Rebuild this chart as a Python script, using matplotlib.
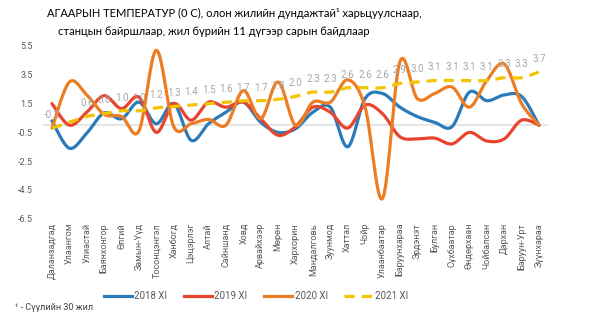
import numpy as np
import matplotlib
matplotlib.use('Agg')
import matplotlib.pyplot as plt
from matplotlib.lines import Line2D

plt.rcParams['font.family'] = ['Roboto', 'DejaVu Sans']

stations = ['Даланзадгад', 'Улаангом', 'Улиастай', 'Баянхонгор', 'Өлгий', 'Замын-Үүд',
            'Тосонцэнгэл', 'Ханбогд', 'Цэцэрлэг', 'Алтай', 'Сайншанд', 'Ховд', 'Арвайхээр',
            'Мөрөн', 'Хархорин', 'Мандалговь', 'Зуунмод', 'Хаттал', 'Чойр', 'Улаанбаатар',
            'Баруунхараа', 'Эрдэнэт', 'Булган', 'Сүхбаатар', 'Өндөрхаан', 'Чойбалсан',
            'Дархан', 'Баруун-Урт', 'Зүүнхараа']

t2018 = [0.3, -1.6, -0.55, 0.85, 0.45, 1.6, 0.1, 1.5, -1.05, 0.1, 0.9, 1.6, 0.2, -0.5,
         -0.25, 0.9, 1.25, -1.5, 1.85, 2.2, 1.25, 0.6, 0.2, -0.1, 2.3, 1.7, 2.1, 2.0, 0.0]
t2019 = [1.5, 0.0, 0.9, 2.05, 1.15, 1.95, -0.5, 1.5, 0.35, 1.6, 1.25, 1.6, 0.45, -0.7,
         -0.1, 1.25, 0.9, -0.2, 1.4, 0.8, -0.8, -0.95, -0.9, -1.3, -0.5, -1.1, -0.95, 0.35, 0.0]
t2020 = [-0.2, 3.0, 2.1, 0.75, 0.6, -0.4, 5.2, -0.1, 0.1, 0.4, 0.0, 2.4, 0.45, 3.0,
         0.0, 1.6, 1.6, 3.15, 1.25, -5.1, 4.4, 1.85, 2.2, 2.65, 1.25, 3.1, 4.25, 1.5, 0.0]
t2021 = [-0.2, 0.2, 0.6, 0.8, 1.0, 1.0, 1.2, 1.3, 1.4, 1.5, 1.6, 1.7, 1.7, 1.8,
         2.0, 2.3, 2.3, 2.6, 2.6, 2.6, 2.9, 3.0, 3.1, 3.1, 3.1, 3.1, 3.3, 3.3, 3.7]

series = [('2018 XI', t2018, '#2b7bba', '-'),
          ('2019 XI', t2019, '#e8452f', '-'),
          ('2020 XI', t2020, '#ec7d23', '-'),
          ('2021 XI', t2021, '#f5c400', '--')]


def smooth(y, n=20):
    # catmull-rom curve through the points, like excel "smoothed line"
    y = np.asarray(y, dtype=float)
    x = np.arange(len(y), dtype=float)
    px = np.concatenate([[x[0]], x, [x[-1]]])
    py = np.concatenate([[y[0]], y, [y[-1]]])
    xs, ys = [], []
    t = np.linspace(0, 1, n, endpoint=False)
    for i in range(1, len(px) - 2):
        for p, out in ((px, xs), (py, ys)):
            p0, p1, p2, p3 = p[i - 1], p[i], p[i + 1], p[i + 2]
            out.extend(0.5 * (2 * p1 + (-p0 + p2) * t + (2 * p0 - 5 * p1 + 4 * p2 - p3) * t ** 2
                              + (-p0 + 3 * p1 - 3 * p2 + p3) * t ** 3))
    xs.append(x[-1])
    ys.append(y[-1])
    return xs, ys


fig = plt.figure(figsize=(5.98, 3.25), dpi=100)
ax = fig.add_axes([0.0724, 0.3268, 0.8435, 0.5317])

ax.axhline(0, color='#e3e3e3', lw=1.3, zorder=1)

for name, vals, col, ls in series:
    xs, ys = smooth(vals)
    if ls == '--':
        ax.plot(xs, ys, color=col, lw=2.3, dashes=(3.2, 2.2), zorder=3)
    else:
        ax.plot(xs, ys, color=col, lw=2.3, solid_capstyle='round', zorder=2)

for i, v in enumerate(t2021):
    if i == 1:
        continue
    ax.annotate('%.1f' % v, (i, v), xytext=(0, 9.5), textcoords='offset points',
                ha='center', va='center', fontsize=7, color='#a6a6a6', zorder=4)

ax.set_xlim(-0.5, len(stations) - 0.5)
ax.set_ylim(-6.5, 5.5)
ax.set_yticks(np.arange(-6.5, 5.6, 2))
ax.set_yticklabels(['%.1f' % v for v in np.arange(-6.5, 5.6, 2)])
ax.set_xticks(range(len(stations)))
ax.set_xticklabels(stations, rotation=90, va='top', ha='center')
ax.tick_params(axis='x', length=0, pad=3, labelsize=6.5, colors='#595959')
ax.tick_params(axis='y', length=0, pad=7.5, labelsize=6.5, colors='#595959')
for s in ax.spines.values():
    s.set_visible(False)

fig.text(47 / 598, 1 - 17 / 325, 'АГААРЫН ТЕМПЕРАТУР (0 С), олон жилийн дундажтай¹ харьцуулснаар,',
         fontsize=8.0, family=['Lato', 'DejaVu Sans'], va='baseline', ha='left')
fig.text(58 / 598, 1 - 35 / 325, 'станцын байршлаар, жил бүрийн 11 дүгээр сарын байдлаар',
         fontsize=8.0, family=['Lato', 'DejaVu Sans'], va='baseline', ha='left')

handles = [Line2D([], [], color=c, lw=2.3, ls=ls if ls == '-' else (0, (3.2, 2.2)))
           for _, _, c, ls in series]
fig.legend(handles, [s[0] for s in series], loc='center', bbox_to_anchor=(0.428, 1 - 296 / 325),
           ncol=4, frameon=False, fontsize=7, handlelength=2.9, handletextpad=0.25,
           columnspacing=1.7, labelcolor='#595959')

fig.text(15 / 598, 1 - 308 / 325, '¹ - Сүүлийн 30 жил', fontsize=6.5, color='#404040', va='center')

plt.savefig('out.png', dpi=100)
